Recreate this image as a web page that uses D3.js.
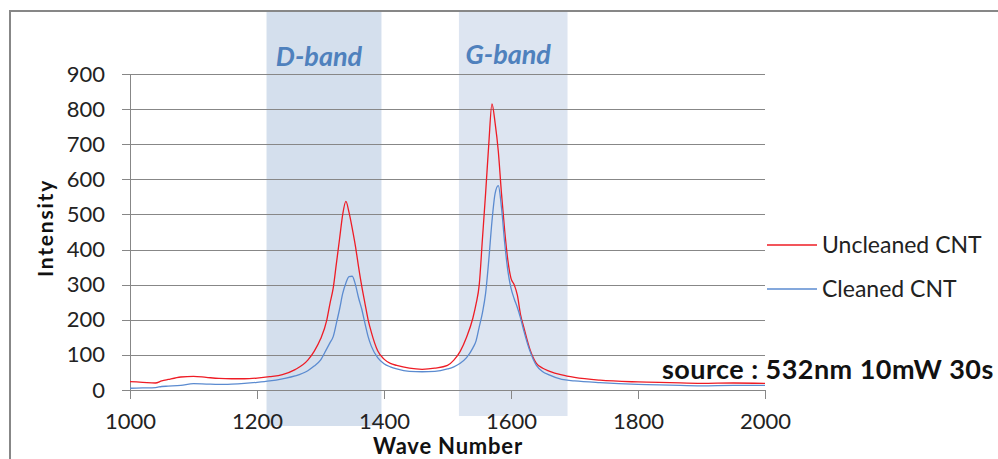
<!DOCTYPE html>
<html>
<head>
<meta charset="utf-8">
<script src="https://cdn.jsdelivr.net/npm/d3@7"></script>
<style>
  html, body { margin: 0; padding: 0; background: #fff; }
  svg { display: block; }
  text { font-family: Lato, "Open Sans", sans-serif; }
</style>
</head>
<body>
<svg id="chart" width="998" height="459"></svg>
<script>
// ---- data ----
const waveNumbers = [1000,1020,1040,1050,1060,1080,1100,1120,1140,1160,1180,1200,1220,1240,1260,1280,1290,1300,1310,1315,1320,1325,1330,1335,1340,1345,1350,1355,1360,1365,1370,1375,1380,1390,1400,1410,1420,1440,1460,1480,1500,1510,1520,1530,1540,1545,1550,1555,1560,1565,1570,1575,1580,1585,1590,1595,1600,1605,1610,1615,1620,1630,1640,1650,1660,1680,1700,1740,1800,1850,1900,1950,2000];
const uncleaned = [24,22,20,26,30,37,39,36,33,32,32,34,38,44,58,85,110,145,200,247,290,360,430,500,537,505,460,410,350,295,247,200,165,112,88,76,70,62,59,62,70,85,110,150,205,245,300,430,560,700,815,760,680,560,455,370,318,300,270,215,180,115,76,62,54,43,36,28,23,21,19,20,19];
const cleaned = [5,6,7,10,11,13,18,17,16,17,19,22,26,32,40,55,68,85,118,135,152,190,230,275,305,323,324,300,262,230,190,152,125,92,75,66,60,53,52,53,60,66,76,92,120,140,180,220,275,370,480,560,582,520,420,340,290,260,235,205,170,110,70,52,43,30,26,21,16,14,12,13,13];
const seriesNames = ["Uncleaned CNT", "Cleaned CNT"];
const seriesColors = ["#ee1c25", "#5b8bd0"];
const bandNames = ["D-band", "G-band"];
const bandStart = [1215, 1518];
const bandEnd = [1396, 1689];
const xTicks = [1000,1200,1400,1600,1800,2000];
const yTicks = [0,100,200,300,400,500,600,700,800,900];
const sourceNote = "source : 532nm 10mW 30s";

// ---- layout ----
const svg = d3.select("#chart");
const pLeft = 130, pRight = 765, pTop = 74, pBottom = 390;
const x = d3.scaleLinear().domain([1000, 2000]).range([pLeft, pRight]);
const y = d3.scaleLinear().domain([0, 900]).range([pBottom, pTop]);
const grey = "#878787";

svg.append("rect").attr("width", 998).attr("height", 459).attr("fill", "#fff");

// bands
const bandFill = ["#d4dfed", "#dde5f1"];
const bandBottom = [426, 416];
bandNames.forEach((name, i) => {
  svg.append("rect")
    .attr("x", x(bandStart[i])).attr("y", 11)
    .attr("width", x(bandEnd[i]) - x(bandStart[i]))
    .attr("height", bandBottom[i] - 11)
    .attr("fill", bandFill[i]);
});

// outer frame
svg.append("path")
  .attr("d", "M1000,11 H10 V470")
  .attr("fill", "none").attr("stroke", grey).attr("stroke-width", 2);

// gridlines
const yAxis = d3.axisLeft(y).tickValues(yTicks).tickSize(-(pRight - pLeft)).tickSizeOuter(0).tickPadding(25);
const gy = svg.append("g").attr("transform", `translate(${pLeft},0)`).call(yAxis);
gy.select(".domain").remove();
gy.selectAll(".tick line").attr("stroke", grey).attr("x1", -8).attr("shape-rendering", "crispEdges");
gy.selectAll(".tick text").attr("font-size", 22).attr("fill", "#222").attr("font-family", "Lato");

// y axis line
svg.append("line").attr("x1", pLeft).attr("x2", pLeft).attr("y1", pTop).attr("y2", pBottom)
  .attr("stroke", grey).attr("shape-rendering", "crispEdges");

// x axis
const xAxis = d3.axisBottom(x).tickValues(xTicks).tickSize(9).tickSizeOuter(0).tickPadding(14).tickFormat(d3.format("d"));
const gx = svg.append("g").attr("transform", `translate(0,${pBottom})`).call(xAxis);
gx.select(".domain").attr("stroke", grey).attr("shape-rendering", "crispEdges");
gx.selectAll(".tick line").attr("stroke", grey).attr("shape-rendering", "crispEdges");
gx.selectAll(".tick text").attr("font-size", 22).attr("fill", "#222").attr("font-family", "Lato");

// lines
const series = [uncleaned, cleaned];
series.forEach((vals, i) => {
  const line = d3.line().x((d, j) => x(waveNumbers[j])).y(d => y(d)).curve(d3.curveMonotoneX);
  svg.append("path").datum(vals).attr("d", line)
    .attr("fill", "none").attr("stroke", seriesColors[i]).attr("stroke-width", 1.3)
    .attr("stroke-linejoin", "round");
});

// band labels
const bandLabelY = [66, 64];
bandNames.forEach((name, i) => {
  svg.append("text").attr("x", (x(bandStart[i]) + x(bandEnd[i])) / 2 - 5).attr("y", bandLabelY[i])
    .attr("text-anchor", "middle").attr("font-size", 27).attr("font-weight", "bold")
    .attr("font-style", "italic").attr("fill", "#4f81bd").text(name);
});

// legend
const legendY = [245, 289];
seriesNames.forEach((name, i) => {
  svg.append("line").attr("x1", 767).attr("x2", 817).attr("y1", legendY[i]).attr("y2", legendY[i])
    .attr("stroke", seriesColors[i]).attr("stroke-width", 1.3);
  svg.append("text").attr("x", 822).attr("y", legendY[i] + 7.5).attr("font-size", 23)
    .attr("fill", "#222").text(name);
});

// axis titles
svg.append("text").attr("x", 448).attr("y", 454).attr("text-anchor", "middle")
  .attr("font-size", 22).attr("font-weight", "bold").attr("letter-spacing", 0.8)
  .attr("fill", "#111").text("Wave Number");
svg.append("text").attr("transform", "translate(53,228) rotate(-90)").attr("text-anchor", "middle")
  .attr("font-size", 21).attr("font-weight", "bold").attr("letter-spacing", 1.8)
  .attr("fill", "#111").text("Intensity");

// source note
svg.append("text").attr("x", 662).attr("y", 379).attr("font-size", 27).attr("font-weight", "bold")
  .attr("letter-spacing", 0.45).attr("fill", "#111").text(sourceNote);
</script>
</body>
</html>
